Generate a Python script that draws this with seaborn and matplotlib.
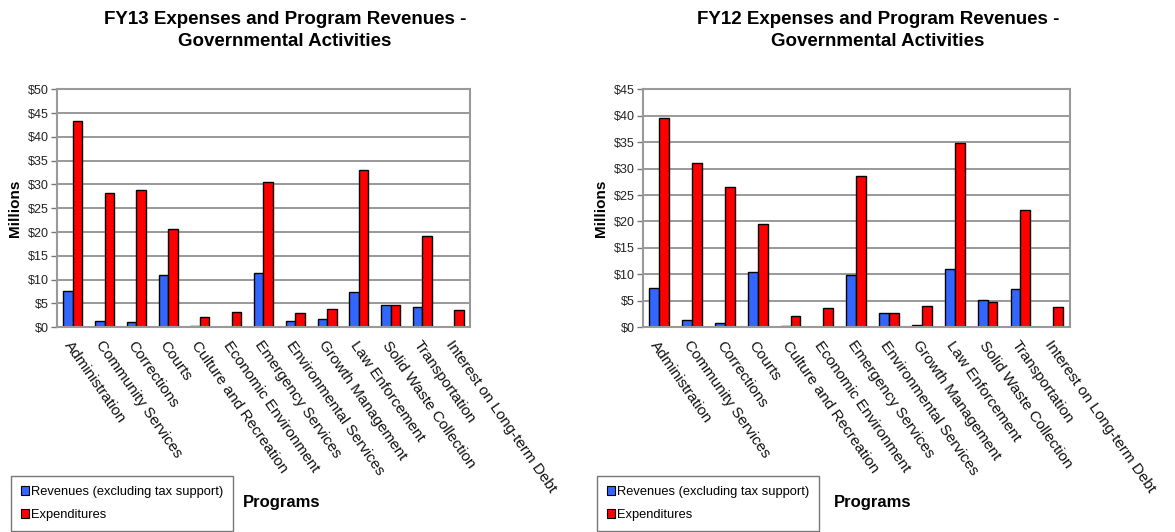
import matplotlib
matplotlib.use("Agg")
import matplotlib.pyplot as plt
import matplotlib.patches as mpatches
import pandas as pd
import seaborn as sns

programs = ["Administration", "Community Services", "Corrections", "Courts",
            "Culture and Recreation", "Economic Environment", "Emergency Services",
            "Environmental Services", "Growth Management", "Law Enforcement",
            "Solid Waste Collection", "Transportation", "Interest on Long-term Debt"]

# millions of dollars
fy13_revenues = [7.7, 1.4, 1.0, 10.9, 0.2, 0.0, 11.4, 1.2, 1.8, 7.4, 4.7, 4.3, 0.0]
fy13_expenditures = [43.3, 28.3, 28.8, 20.6, 2.1, 3.1, 30.6, 2.9, 3.8, 33.0, 4.7, 19.2, 3.6]
fy12_revenues = [7.5, 1.3, 0.7, 10.5, 0.2, 0.0, 9.8, 2.7, 0.5, 11.0, 5.1, 7.3, 0.0]
fy12_expenditures = [39.5, 31.1, 26.5, 19.6, 2.2, 3.6, 28.6, 2.7, 4.1, 34.9, 4.8, 22.1, 3.9]

series_names = ["Revenues (excluding tax support)", "Expenditures"]
colors = ["#3366FF", "#FF0000"]

sns.set_style("white")
plt.rcParams["font.family"] = ["Liberation Sans", "DejaVu Sans"]
plt.rcParams["text.color"] = "black"
plt.rcParams["axes.labelcolor"] = "black"
plt.rcParams["xtick.color"] = "black"

fig = plt.figure(figsize=(11.75, 5.32), dpi=100)


def long_form(rev, exp):
    rows = []
    for p, r, e in zip(programs, rev, exp):
        rows.append((p, series_names[0], r))
        rows.append((p, series_names[1], e))
    return pd.DataFrame(rows, columns=["program", "series", "value"])


def draw(rect, rev, exp, ymax, title, title_x, legend_x, prog_x):
    ax = fig.add_axes(rect)
    df = long_form(rev, exp)
    sns.barplot(data=df, x="program", y="value", hue="series", order=programs,
                hue_order=series_names, palette=colors, width=0.6, saturation=1,
                edgecolor="black", linewidth=1, ax=ax, legend=False)
    ax.set_ylim(0, ymax)
    ax.set_xlim(-0.5, len(programs) - 0.5)
    ax.set_yticks(range(0, ymax + 1, 5))
    ax.set_yticklabels([f"${v}" for v in range(0, ymax + 1, 5)], fontsize=9, color="#222222")
    ax.yaxis.grid(True, color="#888888", linewidth=1.2)
    ax.set_axisbelow(True)
    for s in ax.spines.values():
        s.set_color("#999999")
        s.set_linewidth(1.5)
    ax.set_xticks(range(len(programs)))
    ax.set_xticklabels(programs, rotation=-55, ha="left", va="top",
                       rotation_mode="anchor", fontsize=11, color="#111111")
    ax.set_xticks([i - 0.5 for i in range(len(programs) + 1)], minor=True)
    ax.tick_params(axis="x", which="major", length=0, pad=8)
    ax.tick_params(axis="x", which="minor", length=4, color="#777777", width=1)
    ax.tick_params(axis="y", length=4, color="#777777", width=1, left=True, pad=2)
    ax.set_xlabel("")
    ax.set_ylabel("Millions", fontsize=11, fontweight="bold", labelpad=4)

    fig.text(title_x, 0.98, title, ha="center", va="top", fontsize=13.5,
             fontweight="bold", linespacing=1.45)

    handles = [mpatches.Patch(facecolor=c, edgecolor="black", linewidth=0.8)
               for c in colors]
    leg = fig.legend(handles, series_names, loc="lower left",
                     bbox_to_anchor=(legend_x, 0.0), fontsize=9.3, frameon=True,
                     fancybox=False, edgecolor="#555555", handlelength=0.6,
                     handleheight=0.6, handletextpad=0.2, borderpad=0.75,
                     labelspacing=0.85, borderaxespad=0.1)
    leg.get_frame().set_linewidth(1)
    fig.text(prog_x, 0.055, "Programs", ha="left", va="center", fontsize=12,
             fontweight="bold")
    return ax


draw([0.0485, 0.385, 0.3515, 0.447], fy13_revenues, fy13_expenditures, 50,
     "FY13 Expenses and Program Revenues -\nGovernmental Activities",
     285 / 1175, 10 / 1175, 243 / 1175)
draw([0.547, 0.385, 0.3634, 0.447], fy12_revenues, fy12_expenditures, 45,
     "FY12 Expenses and Program Revenues -\nGovernmental Activities",
     878 / 1175, 596 / 1175, 834 / 1175)

fig.savefig("out.png", dpi=100)
